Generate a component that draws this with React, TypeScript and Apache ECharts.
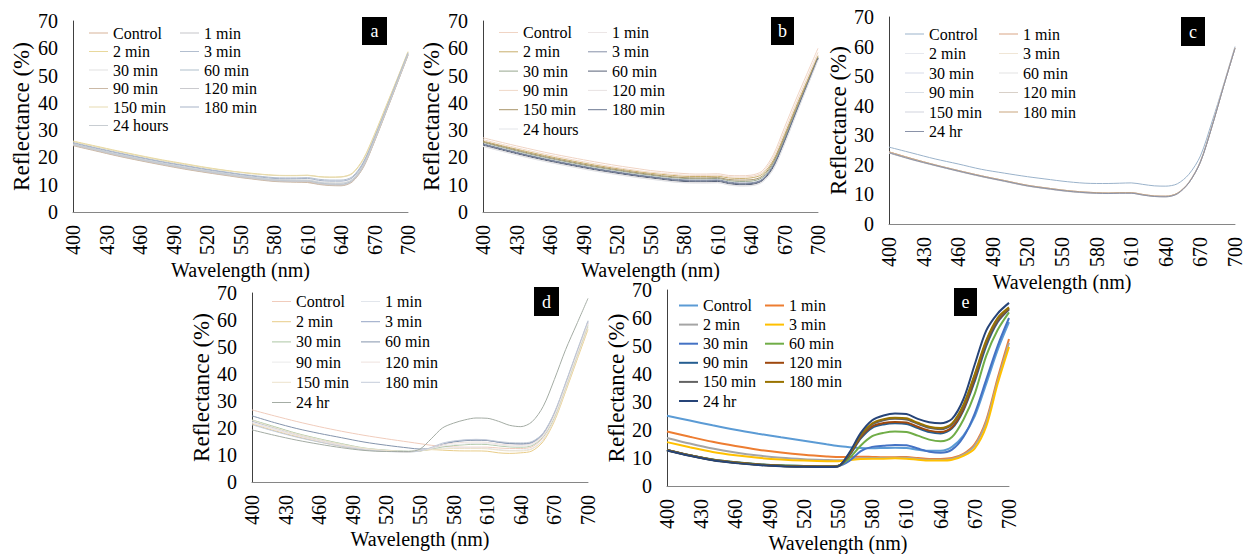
import React, { useEffect, useRef } from "react";
import * as echarts from "echarts";

const FONT = '"Times New Roman", "Liberation Serif", serif';

const WAVELENGTHS = [400, 420, 440, 460, 480, 500, 520, 540, 550, 560, 570, 580, 590, 600, 610, 620, 630, 640, 650, 660, 670, 680, 690, 700];

const X_TICKS_MIN = 400;
const X_TICKS_MAX = 700;
const X_TICK_STEP = 30;
const Y_TICKS_MIN = 0;
const Y_TICKS_MAX = 70;
const Y_TICK_STEP = 10;

const NAMES_HOURS = ["Control", "1 min", "2 min", "3 min", "30 min", "60 min", "90 min", "120 min", "150 min", "180 min", "24 hours"];
const NAMES_HR = ["Control", "1 min", "2 min", "3 min", "30 min", "60 min", "90 min", "120 min", "150 min", "180 min", "24 hr"];

// Panel a (order follows NAMES_HOURS)
const A_VALUES = [
  [24.5, 22.6, 20.7, 19.0, 17.4, 15.9, 14.6, 13.4, 12.8, 12.3, 11.8, 11.4, 11.2, 11.1, 11.0, 10.3, 9.9, 9.8, 11.2, 16.5, 26.0, 36.4, 46.9, 57.5],
  [24.7, 22.8, 20.9, 19.2, 17.6, 16.1, 14.8, 13.6, 13.0, 12.5, 12.0, 11.6, 11.4, 11.3, 11.3, 10.6, 10.1, 10.0, 11.4, 16.8, 26.2, 36.6, 47.1, 57.7],
  [26.0, 24.2, 22.4, 20.7, 19.1, 17.7, 16.3, 15.1, 14.6, 14.2, 13.8, 13.5, 13.4, 13.4, 13.5, 13.0, 12.8, 12.9, 14.2, 19.5, 28.5, 38.5, 48.5, 58.8],
  [25.5, 23.6, 21.8, 20.1, 18.5, 17.1, 15.7, 14.5, 13.9, 13.4, 13.0, 12.6, 12.5, 12.5, 12.6, 12.0, 11.7, 11.7, 12.9, 18.3, 27.5, 37.6, 48.0, 58.4],
  [25.0, 23.1, 21.3, 19.6, 18.0, 16.6, 15.2, 14.0, 13.4, 12.9, 12.4, 12.0, 11.9, 11.8, 11.8, 11.1, 10.8, 10.7, 12.0, 17.4, 26.8, 37.0, 47.5, 58.0],
  [24.8, 22.9, 21.0, 19.3, 17.7, 16.2, 14.9, 13.7, 13.1, 12.6, 12.1, 11.7, 11.5, 11.4, 11.4, 10.7, 10.3, 10.2, 11.5, 16.9, 26.4, 36.7, 47.2, 57.8],
  [24.3, 22.4, 20.5, 18.8, 17.2, 15.7, 14.4, 13.2, 12.6, 12.1, 11.6, 11.2, 11.0, 10.9, 10.8, 10.1, 9.7, 9.6, 11.0, 16.3, 25.8, 36.2, 46.8, 57.4],
  [24.6, 22.7, 20.8, 19.1, 17.5, 16.0, 14.7, 13.5, 12.9, 12.4, 11.9, 11.5, 11.3, 11.2, 11.2, 10.4, 10.0, 9.9, 11.3, 16.6, 26.1, 36.5, 47.0, 57.6],
  [25.8, 24.0, 22.2, 20.5, 18.9, 17.5, 16.1, 15.0, 14.5, 14.0, 13.7, 13.4, 13.3, 13.3, 13.4, 12.9, 12.7, 12.8, 14.0, 19.2, 28.2, 38.2, 48.3, 58.6],
  [25.3, 23.4, 21.6, 19.9, 18.3, 16.9, 15.5, 14.3, 13.7, 13.2, 12.7, 12.3, 12.2, 12.2, 12.3, 11.6, 11.3, 11.3, 12.5, 17.9, 27.2, 37.3, 47.8, 58.2],
  [24.9, 23.0, 21.1, 19.4, 17.8, 16.4, 15.0, 13.8, 13.2, 12.7, 12.2, 11.8, 11.7, 11.6, 11.6, 10.9, 10.5, 10.5, 11.8, 17.2, 26.6, 36.8, 47.3, 57.9],
];

// Panel b
const B_VALUES = [
  [27.2, 25.2, 23.3, 21.5, 19.9, 18.4, 17.0, 15.8, 15.2, 14.8, 14.4, 14.1, 13.9, 13.9, 14.0, 13.4, 13.3, 13.5, 15.0, 21.0, 31.0, 41.0, 50.5, 60.0],
  [24.3, 22.2, 20.2, 18.4, 16.8, 15.3, 14.0, 12.8, 12.3, 11.8, 11.3, 11.0, 10.9, 10.9, 11.0, 10.2, 9.8, 9.9, 11.2, 16.0, 25.2, 35.6, 45.8, 56.0],
  [26.0, 24.0, 22.1, 20.3, 18.7, 17.2, 15.9, 14.7, 14.2, 13.8, 13.4, 13.1, 13.0, 13.0, 13.1, 12.5, 12.3, 12.5, 13.8, 19.0, 28.3, 38.3, 47.8, 57.3],
  [25.0, 22.9, 20.9, 19.1, 17.5, 16.0, 14.7, 13.5, 13.0, 12.5, 12.1, 11.8, 11.7, 11.7, 11.8, 11.0, 10.6, 10.7, 12.0, 17.2, 26.4, 36.5, 46.4, 56.4],
  [25.5, 23.4, 21.4, 19.6, 18.0, 16.5, 15.2, 14.0, 13.5, 13.0, 12.6, 12.3, 12.2, 12.2, 12.3, 11.5, 11.2, 11.3, 12.6, 17.8, 27.0, 37.0, 46.8, 56.6],
  [24.5, 22.4, 20.4, 18.6, 17.0, 15.5, 14.2, 13.0, 12.5, 12.0, 11.5, 11.2, 11.1, 11.1, 11.2, 10.4, 10.0, 10.1, 11.4, 16.4, 25.6, 35.9, 46.0, 56.2],
  [26.5, 24.5, 22.6, 20.8, 19.2, 17.7, 16.3, 15.1, 14.6, 14.2, 13.8, 13.5, 13.4, 13.4, 13.5, 12.9, 12.8, 13.0, 14.4, 20.0, 29.5, 39.5, 49.0, 58.5],
  [24.1, 22.0, 20.0, 18.2, 16.6, 15.1, 13.8, 12.6, 12.1, 11.6, 11.1, 10.8, 10.7, 10.7, 10.8, 10.0, 9.6, 9.7, 11.0, 15.8, 25.0, 35.4, 45.6, 55.8],
  [25.7, 23.7, 21.7, 19.9, 18.3, 16.8, 15.5, 14.3, 13.8, 13.3, 12.9, 12.6, 12.5, 12.5, 12.6, 11.9, 11.7, 11.8, 13.1, 18.4, 27.6, 37.6, 47.2, 56.9],
  [24.8, 22.7, 20.7, 18.9, 17.3, 15.8, 14.5, 13.3, 12.8, 12.3, 11.8, 11.5, 11.4, 11.4, 11.5, 10.7, 10.3, 10.4, 11.7, 16.8, 26.0, 36.2, 46.2, 56.3],
  [24.0, 21.9, 19.9, 18.1, 16.5, 15.0, 13.7, 12.5, 12.0, 11.5, 11.0, 10.7, 10.6, 10.6, 10.7, 9.9, 9.5, 9.6, 10.9, 15.6, 24.8, 35.2, 45.5, 55.7],
];

// Panel c
const C_VALUES = [
  [26.0, 24.0, 22.0, 20.3, 18.5, 17.2, 16.0, 15.0, 14.5, 14.1, 13.8, 13.7, 13.7, 13.8, 13.9, 13.4, 12.9, 12.8, 13.6, 16.8, 23.0, 34.5, 47.0, 60.0],
  [24.4, 22.1, 20.0, 18.1, 16.3, 14.7, 13.1, 12.0, 11.5, 11.1, 10.8, 10.6, 10.5, 10.6, 10.6, 10.0, 9.5, 9.4, 10.4, 14.1, 21.2, 33.2, 46.6, 59.6],
  [24.0, 21.8, 19.8, 17.9, 16.1, 14.5, 12.9, 11.8, 11.3, 10.9, 10.6, 10.4, 10.3, 10.4, 10.4, 9.8, 9.3, 9.2, 10.2, 13.9, 20.9, 32.9, 46.4, 59.4],
  [24.3, 22.0, 19.9, 18.0, 16.2, 14.6, 13.0, 11.9, 11.4, 11.0, 10.7, 10.5, 10.4, 10.5, 10.5, 9.9, 9.4, 9.3, 10.3, 14.0, 21.0, 33.0, 46.5, 59.5],
  [24.1, 21.9, 19.8, 17.9, 16.1, 14.5, 12.9, 11.8, 11.3, 10.9, 10.6, 10.4, 10.4, 10.5, 10.5, 9.9, 9.4, 9.3, 10.3, 14.0, 21.1, 33.1, 46.5, 59.5],
  [24.2, 21.9, 19.9, 18.0, 16.2, 14.6, 13.0, 11.9, 11.4, 11.0, 10.7, 10.5, 10.4, 10.5, 10.5, 9.9, 9.4, 9.3, 10.3, 14.1, 21.1, 33.0, 46.4, 59.4],
  [24.3, 22.0, 20.0, 18.1, 16.3, 14.7, 13.1, 12.0, 11.5, 11.1, 10.8, 10.6, 10.5, 10.6, 10.6, 10.0, 9.5, 9.4, 10.4, 14.1, 21.1, 33.1, 46.6, 59.6],
  [24.0, 21.7, 19.7, 17.8, 16.0, 14.4, 12.8, 11.7, 11.2, 10.8, 10.5, 10.3, 10.3, 10.4, 10.4, 9.8, 9.3, 9.2, 10.2, 13.9, 20.9, 32.9, 46.4, 59.4],
  [24.2, 22.0, 19.9, 18.0, 16.2, 14.6, 13.0, 11.9, 11.4, 11.0, 10.7, 10.5, 10.4, 10.5, 10.5, 9.9, 9.4, 9.3, 10.3, 14.0, 21.0, 33.0, 46.5, 59.5],
  [24.4, 22.1, 20.0, 18.1, 16.3, 14.7, 13.1, 12.0, 11.5, 11.1, 10.8, 10.6, 10.5, 10.6, 10.6, 10.0, 9.5, 9.4, 10.4, 14.0, 21.0, 33.0, 46.5, 59.5],
  [24.1, 21.8, 19.8, 17.9, 16.1, 14.5, 12.9, 11.8, 11.3, 10.9, 10.6, 10.4, 10.3, 10.4, 10.4, 9.8, 9.3, 9.2, 10.2, 13.9, 20.9, 32.9, 46.4, 59.4],
];

// Panel d
const D_VALUES = [
  [26.7, 24.5, 22.4, 20.5, 18.8, 17.3, 16.0, 14.8, 14.2, 13.6, 13.2, 13.0, 12.9, 12.9, 12.9, 12.6, 12.4, 12.4, 13.0, 16.5, 24.0, 35.0, 47.0, 58.5],
  [22.0, 19.6, 17.3, 15.3, 13.6, 12.2, 11.5, 11.2, 11.5, 12.2, 12.6, 12.6, 12.6, 12.6, 12.5, 12.0, 11.7, 11.8, 12.4, 15.8, 23.2, 34.2, 45.8, 57.5],
  [21.5, 19.0, 16.8, 14.9, 13.2, 12.0, 11.4, 11.2, 11.5, 12.0, 11.8, 11.6, 11.5, 11.5, 11.4, 10.8, 10.6, 10.8, 11.5, 15.0, 22.5, 33.5, 45.0, 56.5],
  [22.5, 20.0, 17.5, 15.5, 13.8, 12.3, 11.6, 11.3, 11.6, 12.5, 14.0, 15.0, 15.5, 15.6, 15.4, 14.7, 14.2, 14.0, 14.5, 17.5, 25.0, 36.0, 47.5, 59.0],
  [23.0, 20.5, 18.0, 16.0, 14.2, 12.6, 11.8, 11.4, 11.5, 12.2, 13.0, 13.5, 13.8, 14.0, 13.9, 13.4, 13.0, 12.9, 13.5, 16.8, 24.0, 35.0, 46.5, 58.0],
  [24.5, 22.0, 19.8, 18.0, 16.4, 14.8, 13.6, 12.6, 12.2, 12.5, 13.8, 14.8, 15.3, 15.5, 15.4, 14.8, 14.3, 14.2, 14.8, 18.0, 25.5, 36.5, 48.0, 59.5],
  [22.2, 19.8, 17.5, 15.5, 13.8, 12.4, 11.6, 11.3, 11.6, 12.4, 13.3, 13.8, 14.1, 14.3, 14.2, 13.7, 13.3, 13.2, 13.8, 17.0, 24.4, 35.4, 47.0, 58.6],
  [21.8, 19.4, 17.2, 15.2, 13.5, 12.1, 11.4, 11.2, 11.6, 12.6, 13.8, 14.4, 14.7, 14.8, 14.7, 14.1, 13.7, 13.6, 14.2, 17.4, 24.8, 35.8, 47.4, 59.0],
  [22.8, 20.2, 17.8, 15.8, 14.0, 12.5, 11.7, 11.3, 11.6, 12.0, 12.3, 12.4, 12.4, 12.4, 12.3, 11.8, 11.5, 11.5, 12.2, 15.5, 23.0, 34.0, 45.6, 57.2],
  [21.2, 18.8, 16.6, 14.8, 13.2, 11.9, 11.3, 11.1, 11.5, 12.8, 14.4, 15.2, 15.6, 15.8, 15.6, 15.0, 14.6, 14.5, 15.0, 18.2, 25.8, 36.8, 48.4, 59.8],
  [19.3, 17.3, 15.5, 14.0, 12.7, 11.7, 11.3, 11.3, 12.2, 16.0, 20.0, 21.8, 23.0, 23.7, 23.6, 22.5, 21.0, 20.5, 22.3, 28.0, 38.0, 49.0, 58.5, 68.0],
];

// Panel e
const E_VALUES = [
  [25.1, 23.4, 21.7, 20.1, 18.7, 17.4, 16.2, 14.9, 14.3, 13.9, 13.6, 13.5, 13.6, 13.7, 13.6, 13.0, 12.6, 12.6, 14.0, 18.0, 25.0, 36.5, 48.5, 58.5],
  [19.5, 17.6, 15.8, 14.3, 13.0, 12.0, 11.2, 10.6, 10.4, 10.4, 10.5, 10.4, 10.3, 10.3, 10.4, 10.0, 9.7, 9.7, 10.0, 11.5, 15.0, 23.5, 38.5, 52.5],
  [17.2, 15.2, 13.4, 12.0, 10.9, 10.1, 9.6, 9.3, 9.2, 9.5, 9.9, 10.0, 10.0, 10.1, 10.1, 9.7, 9.4, 9.4, 9.7, 11.2, 14.5, 22.8, 37.5, 51.2],
  [15.7, 13.9, 12.2, 11.0, 10.1, 9.5, 9.1, 8.9, 8.9, 9.3, 9.7, 9.8, 9.8, 9.9, 9.8, 9.4, 9.1, 9.1, 9.4, 10.8, 13.5, 21.3, 36.5, 49.7],
  [12.9, 11.0, 9.5, 8.5, 7.8, 7.4, 7.2, 7.1, 7.2, 9.0, 12.5, 14.0, 14.4, 14.7, 14.6, 13.4, 12.3, 11.9, 13.0, 17.5, 26.0, 38.0, 50.0, 60.0],
  [12.9, 11.0, 9.5, 8.5, 7.8, 7.4, 7.2, 7.1, 7.3, 10.0, 14.5, 17.8, 19.0, 19.5, 19.3, 18.0, 16.6, 16.0, 17.5, 23.7, 33.0, 46.5, 55.7, 62.0],
  [12.9, 11.0, 9.4, 8.4, 7.7, 7.3, 7.1, 7.0, 7.2, 11.0, 17.0, 20.8, 22.0, 22.4, 22.2, 20.7, 19.3, 18.8, 20.6, 27.0, 37.5, 50.0, 58.5, 63.0],
  [12.9, 11.0, 9.4, 8.4, 7.7, 7.3, 7.1, 7.0, 7.2, 11.2, 17.5, 21.3, 22.5, 22.9, 22.7, 21.2, 19.8, 19.3, 21.0, 27.5, 38.5, 51.0, 59.0, 63.3],
  [12.8, 10.9, 9.3, 8.3, 7.6, 7.2, 7.0, 6.9, 7.1, 11.5, 18.0, 22.0, 23.5, 24.0, 23.8, 22.2, 20.8, 20.3, 22.0, 28.5, 39.5, 51.5, 59.5, 63.6],
  [12.8, 10.9, 9.3, 8.3, 7.6, 7.2, 7.0, 6.9, 7.1, 11.6, 18.3, 22.4, 23.9, 24.4, 24.2, 22.6, 21.2, 20.7, 22.4, 29.0, 40.0, 52.0, 60.0, 63.8],
  [12.7, 10.8, 9.2, 8.2, 7.5, 7.1, 6.9, 6.8, 7.0, 12.0, 19.0, 23.5, 25.2, 25.9, 25.7, 24.0, 22.8, 22.4, 24.0, 31.0, 43.5, 55.5, 61.6, 65.4],
];

const A_COLORS = ["#D6B299", "#C4C4C8", "#E8D89C", "#B2BECF", "#E0E0E0", "#AEBECB", "#CBB9A6", "#CACACE", "#E6DAB0", "#A6B2C6", "#C8CDD2"];
const B_COLORS = ["#F0D4C4", "#ECE6E6", "#C8AE6C", "#8690A8", "#96A68E", "#566076", "#F0D8C8", "#E8E2E2", "#A89468", "#6A7690", "#E2E4E8"];
const C_COLORS = ["#9AB2CA", "#D8A484", "#E6E8EE", "#F0E6D6", "#D6DAE8", "#E2E2E2", "#DADFE8", "#D8D0C8", "#D0D2DC", "#C8A47C", "#8A92A8"];
const D_COLORS = ["#F0CCBC", "#E2E6EC", "#E8CC88", "#94A4C4", "#ACC6A4", "#8494AC", "#EAEAEA", "#EEE2DE", "#ECE2CC", "#C4CCDA", "#A4ACA4"];
const E_COLORS = ["#5B9BD5", "#ED7D31", "#A5A5A5", "#FFC000", "#4472C4", "#70AD47", "#255E91", "#9E480E", "#636363", "#997300", "#264478"];

const PANELS = [
  { key: "a", names: NAMES_HOURS, values: A_VALUES, colors: A_COLORS, lw: 1,
    grid: { left: 73, top: 21, width: 335, height: 191 }, yGap: 40, xGap: 48,
    legend: { x1: 89, x2: 180, top: 25, gap: 2.5 }, box: { x: 362, y: 17, w: 25, h: 28 } },
  { key: "b", names: NAMES_HOURS, values: B_VALUES, colors: B_COLORS, lw: 1,
    grid: { left: 483, top: 21, width: 335, height: 191 }, yGap: 40, xGap: 48,
    legend: { x1: 499, x2: 588, top: 24.5, gap: 3.3 }, box: { x: 771, y: 17, w: 23, h: 28 } },
  { key: "c", names: NAMES_HR, values: C_VALUES, colors: C_COLORS, lw: 1,
    grid: { left: 889, top: 17, width: 346, height: 207 }, yGap: 36, xGap: 48,
    legend: { x1: 905, x2: 999, top: 26, gap: 3.5 }, box: { x: 1181, y: 17, w: 24, h: 29 } },
  { key: "d", names: NAMES_HR, values: D_VALUES, colors: D_COLORS, lw: 1,
    grid: { left: 252, top: 293, width: 336, height: 189 }, yGap: 39, xGap: 45,
    legend: { x1: 272, x2: 361, top: 293.5, gap: 4.2 }, box: { x: 534, y: 287, w: 25, h: 29 } },
  { key: "e", names: NAMES_HR, values: E_VALUES, colors: E_COLORS, lw: 2,
    grid: { left: 667, top: 290, width: 342, height: 197 }, yGap: 39, xGap: 45,
    legend: { x1: 679, x2: 765, top: 297.5, gap: 3.1 }, box: { x: 954, y: 288, w: 23, h: 28 } },
];

function buildOption() {
  const grid = PANELS.map((p) => ({ ...p.grid, containLabel: false }));
  const xAxis = PANELS.map((p, i) => ({
    type: "value",
    gridIndex: i,
    min: X_TICKS_MIN,
    max: X_TICKS_MAX,
    interval: X_TICK_STEP,
    name: "Wavelength (nm)",
    nameLocation: "middle",
    nameGap: p.xGap,
    nameTextStyle: { fontSize: 20, fontWeight: "normal", color: "#000", fontFamily: FONT },
    axisLine: { show: true, onZero: false, lineStyle: { color: "#868686", width: 1 } },
    axisTick: { show: false },
    splitLine: { show: false },
    axisLabel: { rotate: 90, margin: 13, fontSize: 20, color: "#000", fontFamily: FONT },
  }));
  const yAxis = PANELS.map((p, i) => ({
    type: "value",
    gridIndex: i,
    min: Y_TICKS_MIN,
    max: Y_TICKS_MAX,
    interval: Y_TICK_STEP,
    name: "Reflectance (%)",
    nameLocation: "middle",
    nameRotate: 90,
    nameGap: p.yGap,
    nameTextStyle: { fontSize: 23, fontWeight: "normal", color: "#000", fontFamily: FONT },
    axisLine: { show: true, lineStyle: { color: "#404040", width: 1 } },
    axisTick: { show: false },
    splitLine: { show: false },
    axisLabel: { margin: 15, fontSize: 20, color: "#000", fontFamily: FONT },
  }));
  const series: any[] = [];
  const legend: any[] = [];
  const graphic: any[] = [];
  PANELS.forEach((p, i) => {
    p.names.forEach((n, k) => {
      series.push({
        type: "line",
        name: `${p.key}::${n}`,
        xAxisIndex: i,
        yAxisIndex: i,
        data: WAVELENGTHS.map((w, j) => [w, p.values[k][j]]),
        symbol: "none",
        showSymbol: false,
        smooth: 0.3,
        lineStyle: { color: p.colors[k], width: p.lw },
        itemStyle: { color: p.colors[k] },
        emphasis: { disabled: true },
        silent: true,
      });
    });
    const common = {
      orient: "vertical",
      top: p.legend.top,
      itemGap: p.legend.gap,
      itemWidth: 19,
      itemHeight: p.lw,
      icon: "rect",
      padding: 0,
      selectedMode: false,
      formatter: (name: string) => name.split("::")[1],
      textStyle: { fontSize: 16, lineHeight: 16, fontWeight: "normal", color: "#000", fontFamily: FONT },
    };
    legend.push({
      ...common,
      left: p.legend.x1,
      data: p.names.filter((_, k) => k % 2 === 0).map((n) => `${p.key}::${n}`),
    });
    legend.push({
      ...common,
      left: p.legend.x2,
      data: p.names.filter((_, k) => k % 2 === 1).map((n) => `${p.key}::${n}`),
    });
    graphic.push({
      type: "rect",
      shape: { x: p.box.x, y: p.box.y, width: p.box.w, height: p.box.h },
      style: { fill: "#000" },
      z: 100,
    });
    graphic.push({
      type: "text",
      x: p.box.x + p.box.w / 2,
      y: p.box.y + p.box.h / 2,
      style: { text: p.key, fill: "#fff", fontSize: 18, fontFamily: FONT, align: "center", verticalAlign: "middle" },
      z: 101,
    });
  });
  return {
    animation: false,
    backgroundColor: "#fff",
    textStyle: { fontFamily: FONT },
    grid,
    xAxis,
    yAxis,
    series,
    legend,
    graphic,
  };
}

export default function App() {
  const ref = useRef<HTMLDivElement>(null);
  useEffect(() => {
    document.body.style.margin = "0";
    if (!ref.current) return;
    const chart = echarts.init(ref.current, null, { renderer: "svg" });
    chart.setOption(buildOption() as any);
    return () => chart.dispose();
  }, []);
  return <div ref={ref} style={{ width: 1245, height: 554 }} />;
}
